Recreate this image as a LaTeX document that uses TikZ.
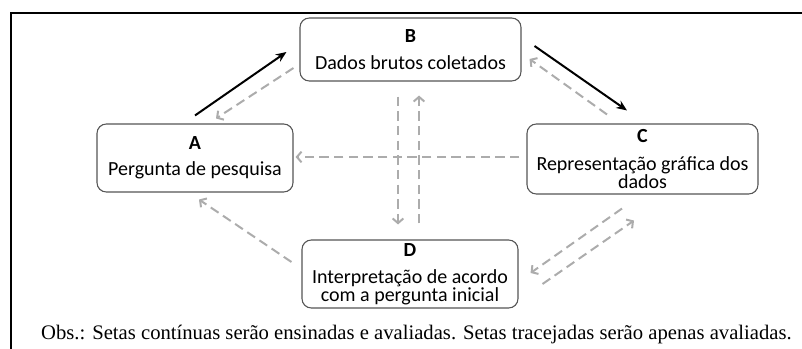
\documentclass[tikz,border=0pt]{standalone}
\usepackage{fontspec}
\setmainfont{Liberation Serif}
\newfontfamily\boxfont{Carlito}
\usepackage{tikz}
\usetikzlibrary{arrows.meta}
\usetikzlibrary{calc}
\definecolor{dashgray}{RGB}{172,172,172}
\definecolor{boxgray}{RGB}{85,85,85}

\begin{document}
\begin{tikzpicture}[x=0.75pt,y=-0.75pt,
  etapa/.style={draw=boxgray,line width=0.8pt,rounded corners=7pt,align=center,
    inner sep=0pt,font=\boxfont\fontsize{15}{13.5}\selectfont},
  ensinada/.style={line width=1.5pt,-{Stealth[length=8pt,width=6.5pt]}},
  avaliada/.style={dashgray,line width=1.5pt,dash pattern=on 7pt off 4pt,
    -{Straight Barb[length=3.5pt,width=8pt]}}]
\useasboundingbox (0,0) rectangle (802,349);
\draw[line width=1.5pt] (11,349) -- (11,13) -- (802,13);
\node[etapa,minimum width=147pt,minimum height=51pt] at(195,158)(A) {\textbf{A}\\[6pt]Pergunta de pesquisa};
\node[etapa,minimum width=165.75pt,minimum height=47.25pt] at(410.5,49.5)(B) {\textbf{B}\\[7pt]Dados brutos coletados};
\node[etapa,minimum width=173.25pt,minimum height=52.5pt] at(642.5,159)(C) {\textbf{C}\\[7pt]Representação gráfica dos\\dados};
\node[etapa,minimum width=162pt,minimum height=51pt] at(410,274)(D) {\textbf{D}\\[7pt]Interpretação de acordo\\com a pergunta inicial};
\node at(416.5,335)(obs) {\fontsize{15.5}{18}\selectfont Obs.: Setas contínuas serão ensinadas e avaliadas. Setas tracejadas serão apenas avaliadas.};
\draw[ensinada] ($(A.north)+(0,-8)$) -- ($(B.west)+(-13,2.5)$);
\draw[ensinada] ($(B.east)+(13,-3.5)$) -- ($(C.north)+(-15.5,-13)$);
\draw[avaliada] ($(B.west)+(-6,18.5)$) -- ($(A.north)+(21,-5)$);
\draw[avaliada] ($(C.north)+(-35.5,-9)$) -- ($(B.east)+(8,9.5)$);
\draw[avaliada] ($(B.south)+(-12.5,15)$) -- ($(D.north)+(-12,-15)$);
\draw[avaliada] ($(D.north)+(9,-16)$) -- ($(B.south)+(8.5,14)$);
\draw[avaliada] ($(C.west)+(-7,-2)$) -- ($(A.east)+(2,-1)$);
\draw[avaliada] ($(D.west)+(-10,-12)$) -- ($(A.south)+(4,7)$);
\draw[avaliada] ($(C.south)+(-20.5,14)$) -- ($(D.east)+(12,-1)$);
\draw[avaliada] ($(D.east)+(24,10)$) -- ($(C.south)+(-8.5,26)$);
\end{tikzpicture}
\end{document}
